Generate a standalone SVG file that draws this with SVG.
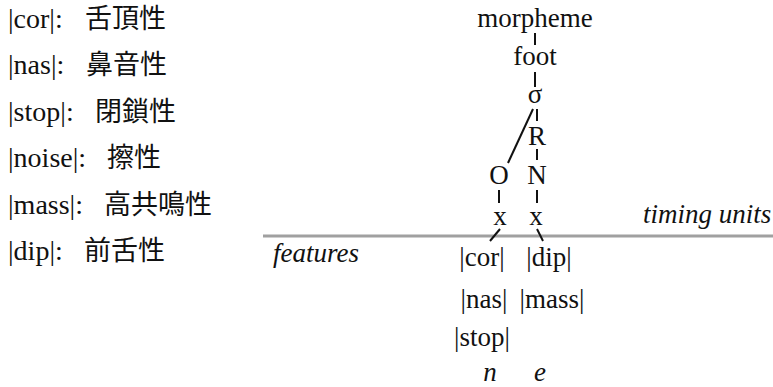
<svg xmlns="http://www.w3.org/2000/svg" width="773" height="387" viewBox="0 0 773 387">
<style>
text{font-family:"Liberation Serif","Times New Roman","Noto Sans CJK JP",serif;font-size:27px;fill:#111}
.lg{font-size:28px}
.cjk{font-family:"Noto Sans CJK JP",sans-serif;font-size:27px}
.it{font-style:italic}
.m{text-anchor:middle}
.ln{stroke:#111;stroke-width:2;fill:none}
</style>
<rect width="773" height="387" fill="#fff"/>
<g id="legend">
<text class="lg" x="8" y="28">|cor|:<tspan class="cjk" x="85">舌頂性</tspan></text>
<text class="lg" x="8" y="74">|nas|:<tspan class="cjk" x="86">鼻音性</tspan></text>
<text class="lg" x="8" y="121">|stop|:<tspan class="cjk" x="95">閉鎖性</tspan></text>
<text class="lg" x="8" y="167">|noise|:<tspan class="cjk" x="107">擦性</tspan></text>
<text class="lg" x="8" y="214">|mass|:<tspan class="cjk" x="104">高共鳴性</tspan></text>
<text class="lg" x="8" y="260">|dip|:<tspan class="cjk" x="84">前舌性</tspan></text>
</g>
<g id="tier-line"><line x1="263" y1="236" x2="773" y2="236" stroke="#a0a0a0" stroke-width="3"/></g>
<g id="label-timing"><text class="it" x="643" y="223">timing units</text></g>
<g id="label-features"><text class="it" x="273" y="262">features</text></g>
<g id="morpheme"><text class="m" x="535" y="27">morpheme</text></g>
<g id="foot"><text class="m" x="535" y="65">foot</text></g>
<g id="sigma"><text class="m" x="535" y="103">σ</text></g>
<g id="R"><text class="m" x="537" y="145">R</text></g>
<g id="O"><text class="m" x="499" y="184">O</text></g>
<g id="N"><text class="m" x="537" y="184">N</text></g>
<g id="xO"><text class="m" x="500" y="225">x</text></g>
<g id="xN"><text class="m" x="536" y="225">x</text></g>
<g id="f-cor"><text class="m" x="482" y="266">|cor|</text></g>
<g id="f-nas"><text class="m" x="484" y="308">|nas|</text></g>
<g id="f-stop"><text class="m" x="482" y="346">|stop|</text></g>
<g id="f-dip"><text class="m" x="549" y="266">|dip|</text></g>
<g id="f-mass"><text class="m" x="552" y="308">|mass|</text></g>
<g id="seg-n"><text class="m it" x="490" y="381">n</text></g>
<g id="seg-e"><text class="m it" x="540" y="381">e</text></g>
<g id="connectors" class="ln">
<line x1="535" y1="33" x2="535" y2="45"/>
<line x1="535" y1="72" x2="535" y2="87"/>
<line x1="533" y1="109" x2="508" y2="163"/>
<line x1="537" y1="109" x2="537" y2="121"/>
<line x1="537" y1="149" x2="537" y2="160"/>
<line x1="499" y1="190" x2="499" y2="203"/>
<line x1="537" y1="190" x2="537" y2="203"/>
<line x1="500" y1="229" x2="490" y2="241"/>
<line x1="537" y1="229" x2="543" y2="241"/>
</g>
</svg>
